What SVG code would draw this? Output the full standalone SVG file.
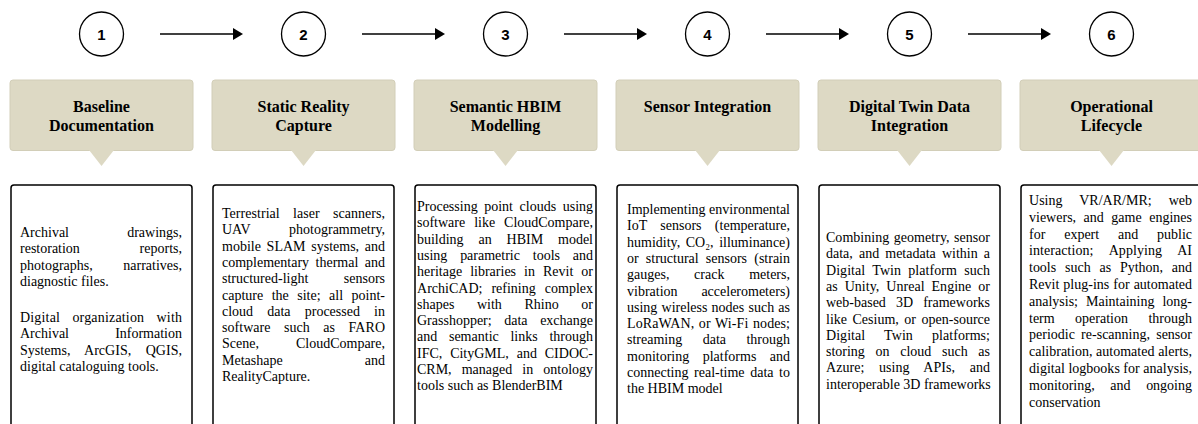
<svg xmlns="http://www.w3.org/2000/svg" width="1198" height="424" viewBox="0 0 1198 424">
<style>
.num circle{fill:#fff;stroke:#000;stroke-width:1.3}
.num text{font-family:"Liberation Sans",Arial,sans-serif;font-weight:bold;font-size:15px;text-anchor:middle;fill:#000}
.head rect,.head polygon{fill:#DDD9C4}
.head rect{stroke:#D2CEB8;stroke-width:1}
.head text{font-family:"Liberation Serif","Times New Roman",serif;font-weight:bold;font-size:16px;text-anchor:middle;fill:#000}
.detail rect{fill:#fff;stroke:#000;stroke-width:1.5}
.detail text{font-family:"Liberation Serif","Times New Roman",serif;font-size:14px;fill:#000}
.detail text.r{text-anchor:end}
#connectors line{stroke:#000;stroke-width:1.3;marker-end:url(#ah)}
</style>
<defs>
<marker id="ah" viewBox="0 0 10 12" refX="1" refY="6" markerWidth="10" markerHeight="12" markerUnits="userSpaceOnUse" orient="auto"><path d="M0,0 L10,6 L0,12 Z" fill="#000"/></marker>
</defs>
<rect width="1198" height="424" fill="#fff"/>

<g id="connectors">
<line x1="160" y1="34" x2="234" y2="34"/>
<line x1="362" y1="34" x2="436" y2="34"/>
<line x1="564" y1="34" x2="638" y2="34"/>
<line x1="766" y1="34" x2="840" y2="34"/>
<line x1="968" y1="34" x2="1042" y2="34"/>
</g>

<g id="num-1" class="num"><circle cx="101.5" cy="34" r="22"/><text x="101.5" y="39.5">1</text></g>
<g id="num-2" class="num"><circle cx="303.5" cy="34" r="22"/><text x="303.5" y="39.5">2</text></g>
<g id="num-3" class="num"><circle cx="505.5" cy="34" r="22"/><text x="505.5" y="39.5">3</text></g>
<g id="num-4" class="num"><circle cx="707.5" cy="34" r="22"/><text x="707.5" y="39.5">4</text></g>
<g id="num-5" class="num"><circle cx="909.5" cy="34" r="22"/><text x="909.5" y="39.5">5</text></g>
<g id="num-6" class="num"><circle cx="1111.5" cy="34" r="22"/><text x="1111.5" y="39.5">6</text></g>

<g id="head-1" class="head"><rect x="10" y="80" width="183" height="70.5" rx="3"/><polygon points="89,150 114,150 101.5,166"/><text x="101.5" y="112">Baseline</text><text x="101.5" y="131">Documentation</text></g>
<g id="head-2" class="head"><rect x="212" y="80" width="183" height="70.5" rx="3"/><polygon points="291,150 316,150 303.5,166"/><text x="303.5" y="112">Static Reality</text><text x="303.5" y="131">Capture</text></g>
<g id="head-3" class="head"><rect x="414" y="80" width="183" height="70.5" rx="3"/><polygon points="493,150 518,150 505.5,166"/><text x="505.5" y="112">Semantic HBIM</text><text x="505.5" y="131">Modelling</text></g>
<g id="head-4" class="head"><rect x="616" y="80" width="183" height="70.5" rx="3"/><polygon points="695,150 720,150 707.5,166"/><text x="707.5" y="112">Sensor Integration</text></g>
<g id="head-5" class="head"><rect x="818" y="80" width="183" height="70.5" rx="3"/><polygon points="897,150 922,150 909.5,166"/><text x="909.5" y="112">Digital Twin Data</text><text x="909.5" y="131">Integration</text></g>
<g id="head-6" class="head"><rect x="1020" y="80" width="183" height="70.5" rx="3"/><polygon points="1099,150 1124,150 1111.5,166"/><text x="1111.5" y="112">Operational</text><text x="1111.5" y="131">Lifecycle</text></g>

<g id="detail-1" class="detail">
<rect x="11" y="185" width="181" height="260" rx="3"/>
<text x="20" y="237">Archival</text><text class="r" x="182" y="237">drawings,</text>
<text x="20" y="253.3">restoration</text><text class="r" x="182" y="253.3">reports,</text>
<text x="20" y="269.6">photographs,</text><text class="r" x="182" y="269.6">narratives,</text>
<text x="20" y="285.9">diagnostic files.</text>
<text x="20" y="322" textLength="162" lengthAdjust="spacing" word-spacing="8.6">Digital organization with</text>
<text x="20" y="338.3">Archival</text><text class="r" x="182" y="338.3">Information</text>
<text x="20" y="354.6" textLength="162" lengthAdjust="spacing" word-spacing="10.8">Systems, ArcGIS, QGIS,</text>
<text x="20" y="370.9">digital cataloguing tools.</text>
</g>

<g id="detail-2" class="detail">
<rect x="213" y="185" width="181" height="260" rx="3"/>
<text x="222" y="218" textLength="163" lengthAdjust="spacing" word-spacing="9.8">Terrestrial laser scanners,</text>
<text x="222" y="234.3">UAV</text><text class="r" x="385" y="234.3">photogrammetry,</text>
<text x="222" y="250.6" textLength="163" lengthAdjust="spacing" word-spacing="2.2">mobile SLAM systems, and</text>
<text x="222" y="266.9" textLength="163" lengthAdjust="spacing" word-spacing="3">complementary thermal and</text>
<text x="222" y="283.2">structured-light</text><text class="r" x="385" y="283.2">sensors</text>
<text x="222" y="299.5" textLength="163" lengthAdjust="spacing" word-spacing="5">capture the site; all point-</text>
<text x="222" y="315.8" textLength="163" lengthAdjust="spacing" word-spacing="10.7">cloud data processed in</text>
<text x="222" y="332.1" textLength="163" lengthAdjust="spacing" word-spacing="9.9">software such as FARO</text>
<text x="222" y="348.4">Scene,</text><text class="r" x="385" y="348.4">CloudCompare,</text>
<text x="222" y="364.7">Metashape</text><text class="r" x="385" y="364.7">and</text>
<text x="222" y="381">RealityCapture.</text>
</g>

<g id="detail-3" class="detail">
<rect x="415" y="185" width="181" height="260" rx="3"/>
<text x="417" y="211" textLength="176" lengthAdjust="spacing" word-spacing="3.1">Processing point clouds using</text>
<text x="417" y="227.3" textLength="176" lengthAdjust="spacing" word-spacing="5.5">software like CloudCompare,</text>
<text x="417" y="243.6" textLength="176" lengthAdjust="spacing" word-spacing="11.4">building an HBIM model</text>
<text x="417" y="259.9" textLength="176" lengthAdjust="spacing" word-spacing="9.3">using parametric tools and</text>
<text x="417" y="276.2" textLength="176" lengthAdjust="spacing" word-spacing="4.5">heritage libraries in Revit or</text>
<text x="417" y="292.5" textLength="176" lengthAdjust="spacing" word-spacing="5.5">ArchiCAD; refining complex</text>
<text x="417" y="308.8" textLength="176" lengthAdjust="spacing" word-spacing="19.1">shapes with Rhino or</text>
<text x="417" y="325.1" textLength="176" lengthAdjust="spacing" word-spacing="9.1">Grasshopper; data exchange</text>
<text x="417" y="341.4" textLength="176" lengthAdjust="spacing" word-spacing="8.2">and semantic links through</text>
<text x="417" y="357.7" textLength="176" lengthAdjust="spacing" word-spacing="4.4">IFC, CityGML, and CIDOC-</text>
<text x="417" y="374" textLength="176" lengthAdjust="spacing" word-spacing="6.6">CRM, managed in ontology</text>
<text x="417" y="390.3">tools such as BlenderBIM</text>
</g>

<g id="detail-4" class="detail">
<rect x="617" y="185" width="181" height="260" rx="3"/>
<text x="627" y="214" textLength="163" lengthAdjust="spacing">Implementing environmental</text>
<text x="627" y="230.3" textLength="163" lengthAdjust="spacing" word-spacing="9.75">IoT sensors (temperature,</text>
<text x="627" y="246.6" textLength="163" lengthAdjust="spacing" word-spacing="2">humidity, CO₂, illuminance)</text>
<text x="627" y="262.9" textLength="163" lengthAdjust="spacing" word-spacing="3.7">or structural sensors (strain</text>
<text x="627" y="279.2" textLength="163" lengthAdjust="spacing" word-spacing="21.2">gauges, crack meters,</text>
<text x="627" y="295.5">vibration</text><text class="r" x="790" y="295.5">accelerometers)</text>
<text x="627" y="311.8" textLength="163" lengthAdjust="spacing" word-spacing="0.7">using wireless nodes such as</text>
<text x="627" y="328.1" textLength="163" lengthAdjust="spacing" word-spacing="0.9">LoRaWAN, or Wi-Fi nodes;</text>
<text x="627" y="344.4" textLength="163" lengthAdjust="spacing" word-spacing="16.9">streaming data through</text>
<text x="627" y="360.7" textLength="163" lengthAdjust="spacing" word-spacing="9.9">monitoring platforms and</text>
<text x="627" y="377" textLength="163" lengthAdjust="spacing" word-spacing="2.1">connecting real-time data to</text>
<text x="627" y="393.3">the HBIM model</text>
</g>

<g id="detail-5" class="detail">
<rect x="819" y="185" width="181" height="260" rx="3"/>
<text x="826" y="242" textLength="164" lengthAdjust="spacing" word-spacing="1">Combining geometry, sensor</text>
<text x="826" y="258.3" textLength="164" lengthAdjust="spacing" word-spacing="2.6">data, and metadata within a</text>
<text x="826" y="274.6" textLength="164" lengthAdjust="spacing" word-spacing="3.7">Digital Twin platform such</text>
<text x="826" y="290.9" textLength="164" lengthAdjust="spacing" word-spacing="3.4">as Unity, Unreal Engine or</text>
<text x="826" y="307.2" textLength="164" lengthAdjust="spacing" word-spacing="6.6">web-based 3D frameworks</text>
<text x="826" y="323.5" textLength="164" lengthAdjust="spacing" word-spacing="2">like Cesium, or open-source</text>
<text x="826" y="339.8" textLength="164" lengthAdjust="spacing" word-spacing="15.5">Digital Twin platforms;</text>
<text x="826" y="356.1" textLength="164" lengthAdjust="spacing" word-spacing="7.2">storing on cloud such as</text>
<text x="826" y="372.4" textLength="164" lengthAdjust="spacing" word-spacing="11.1">Azure; using APIs, and</text>
<text x="826" y="388.7">interoperable 3D frameworks</text>
</g>

<g id="detail-6" class="detail">
<rect x="1021" y="185" width="181" height="260" rx="3"/>
<text x="1029" y="205" textLength="163" lengthAdjust="spacing" word-spacing="13.4">Using VR/AR/MR; web</text>
<text x="1029" y="221.8" textLength="163" lengthAdjust="spacing" word-spacing="4">viewers, and game engines</text>
<text x="1029" y="238.6" textLength="163" lengthAdjust="spacing" word-spacing="15.3">for expert and public</text>
<text x="1029" y="255.4" textLength="163" lengthAdjust="spacing" word-spacing="12.3">interaction; Applying AI</text>
<text x="1029" y="272.2" textLength="163" lengthAdjust="spacing" word-spacing="5.3">tools such as Python, and</text>
<text x="1029" y="289" textLength="163" lengthAdjust="spacing" word-spacing="0.5">Revit plug-ins for automated</text>
<text x="1029" y="305.8" textLength="163" lengthAdjust="spacing" word-spacing="4.5">analysis; Maintaining long-</text>
<text x="1029" y="322.6" textLength="163" lengthAdjust="spacing" word-spacing="16.9">term operation through</text>
<text x="1029" y="339.4" textLength="163" lengthAdjust="spacing" word-spacing="2.7">periodic re-scanning, sensor</text>
<text x="1029" y="356.2" textLength="163" lengthAdjust="spacing" word-spacing="0.2">calibration, automated alerts,</text>
<text x="1029" y="373" textLength="163" lengthAdjust="spacing">digital logbooks for analysis,</text>
<text x="1029" y="389.8" textLength="163" lengthAdjust="spacing" word-spacing="12.1">monitoring, and ongoing</text>
<text x="1029" y="406.6">conservation</text>
</g>
</svg>
